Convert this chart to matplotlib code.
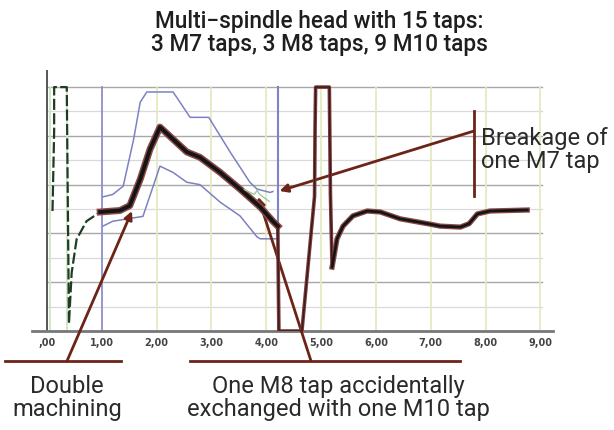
import numpy as np
import matplotlib
matplotlib.use("Agg")
import matplotlib.pyplot as plt

W, H = 614, 431

# x tick labels
tick_pos = [0, 1, 2, 3, 4, 5, 6, 7, 8, 9]
tick_lbl = [",00", "1,00", "2,00", "3,00", "4,00", "5,00", "6,00", "7,00", "8,00", "9,00"]

# start of the trace: first pulse and run-up to the plateau (dashed green part)
start_x = [0.10, 0.13, 0.13, 0.36, 0.40, 0.45, 0.54, 0.72, 0.97]
start_y = [2.46, 4.10, 5.00, 5.00, 0.15, 1.20, 1.88, 2.25, 2.44]

# torque bundle (15 spindles): plateau, peak and decline
rise_x = [0.97, 1.33, 1.51, 1.70, 1.88, 2.06, 2.30, 2.55, 2.79, 3.16, 3.52, 3.89, 4.12, 4.21]
rise_y = [2.44, 2.47, 2.57, 3.11, 3.73, 4.18, 3.93, 3.67, 3.56, 3.25, 2.91, 2.54, 2.25, 2.15]

# drop and second pulse
pulse_x = [4.21, 4.22, 4.23, 4.65, 4.88, 4.89, 4.90, 5.15, 5.17, 5.20]
pulse_y = [2.15, 1.00, 0.00, 0.00, 2.76, 4.20, 5.00, 5.00, 2.80, 1.31]

# recovery and tail
tail_x = [5.20, 5.29, 5.40, 5.58, 5.84, 6.08, 6.44, 6.99, 7.17, 7.54, 7.70, 7.85, 8.08, 8.76]
tail_y = [1.31, 1.89, 2.15, 2.36, 2.46, 2.44, 2.30, 2.19, 2.15, 2.13, 2.20, 2.40, 2.46, 2.48]

# tolerance envelope
upper_x = [1.02, 1.20, 1.39, 1.58, 1.70, 1.82, 2.30, 2.61, 2.95, 3.34, 3.70, 3.83, 4.07, 4.12]
upper_y = [2.75, 2.80, 2.97, 3.93, 4.69, 4.90, 4.90, 4.38, 4.38, 3.67, 3.05, 2.91, 2.84, 2.86]
lower_x = [1.02, 1.20, 1.75, 2.06, 2.30, 2.55, 2.79, 3.16, 3.52, 3.83, 3.89, 4.20]
lower_y = [2.15, 2.25, 2.35, 3.38, 3.25, 3.05, 3.00, 2.64, 2.36, 1.93, 1.89, 1.89]

# M8 tap anomaly blip
blip_x = [3.60, 3.78, 3.83, 3.88, 4.05]
blip_y = [2.90, 2.80, 2.88, 2.80, 2.66]

fig = plt.figure(figsize=(W / 100, H / 100), dpi=100)
# axes placed by pixel box (left, bottom, width, height)
ax = fig.add_axes([32 / W, 1 - 332 / H, (553 - 32) / W, (332 - 72) / H])
ax.set_xlim(-0.274, 9.23)
ax.set_ylim(0, 5.33)

# grid
for y in np.arange(0.5, 5.0, 1.0):
    ax.plot([0, 9.03], [y, y], color="#d9d9d9", lw=0.9, zorder=1)
for y in np.arange(1, 6):
    ax.plot([0, 9.03], [y, y], color="#a8a8a8", lw=1.0, zorder=1)
for x in range(2, 10):
    ax.plot([x, x], [0, 5.0], color="#e4eabf", lw=1.3, zorder=1)
ax.plot([1.0, 1.0], [0, 5.0], color="#8d8fd0", lw=1.3, zorder=2)
ax.plot([4.21, 4.21], [0, 5.0], color="#7f82c6", lw=1.5, zorder=2)
ax.plot([0.06, 0.06], [0, 5.0], color="#cfe6c6", lw=1.3, zorder=1)
ax.plot([0.37, 0.37], [0, 5.0], color="#cfe6c6", lw=1.3, zorder=1)

# envelope
ax.plot(upper_x, upper_y, color="#7d80c4", lw=1.1, zorder=3)
ax.plot(lower_x, lower_y, color="#7d80c4", lw=1.1, zorder=3)

# traces
ax.plot(start_x, start_y, color="#1f3d22", lw=1.6, ls=(0, (5, 1.5)), zorder=4)
ax.plot(rise_x, rise_y, color="#8a4a48", lw=5.0, zorder=4, solid_joinstyle="round")
ax.plot(rise_x, rise_y, color="#151515", lw=2.8, zorder=5, solid_joinstyle="round")
ax.plot(pulse_x, pulse_y, color="#7a3a3a", lw=2.6, zorder=4)
ax.plot(pulse_x, pulse_y, color="#3a1a1a", lw=1.0, zorder=5)
ax.plot(tail_x, tail_y, color="#8a4a48", lw=3.8, zorder=4, solid_joinstyle="round")
ax.plot(tail_x, tail_y, color="#151515", lw=2.0, zorder=5, solid_joinstyle="round")
ax.plot(blip_x, blip_y, color="#9fc99a", lw=1.0, zorder=5)

for s in ["top", "right"]:
    ax.spines[s].set_visible(False)
ax.spines["left"].set_position(("data", 0))
ax.spines["left"].set_color("#555555")
ax.spines["left"].set_linewidth(1.4)
ax.spines["bottom"].set_color("#777777")
ax.spines["bottom"].set_linewidth(2.0)
ax.set_yticks([])
ax.set_xticks(tick_pos)
ax.set_xticklabels(tick_lbl, fontsize=7, color="#444444", fontweight="bold")
ax.tick_params(axis="x", length=0, pad=4)
ax.set_facecolor("white")

# title
fig.text(319 / W, 1 - 33 / H, "Multi\u2212spindle head with 15 taps:\n3 M7 taps, 3 M8 taps, 9 M10 taps",
         ha="center", va="center", fontsize=16.3, family="Roboto", fontweight="medium",
         color="#1e1e1e", linespacing=1.0)

# annotations (pixel positions -> figure fraction)
def fp(x, y):
    return (x / W, 1 - y / H)

brown = "#6b2416"
arr = dict(arrowstyle="-|>", color=brown, lw=2, mutation_scale=12, shrinkA=0, shrinkB=0)
note_font = dict(fontsize=17, family="Roboto", color="#2a2a2a", linespacing=0.98)

# Double machining
fig.add_artist(plt.Line2D([5 / W, 121 / W], [1 - 362 / H] * 2, color=brown, lw=2))
ax.annotate("", xy=(1.55, 2.46), xycoords="data", xytext=fp(67, 362),
            textcoords="figure fraction", arrowprops=arr)
fig.text(67 / W, 1 - 398 / H, "Double\nmachining", ha="center", va="center", **note_font)

# One M8 tap
fig.add_artist(plt.Line2D([190 / W, 460 / W], [1 - 362 / H] * 2, color=brown, lw=2))
ax.annotate("", xy=(3.85, 2.75), xycoords="data", xytext=fp(311, 362),
            textcoords="figure fraction", arrowprops=arr)
fig.text(338 / W, 1 - 398 / H, "One M8 tap accidentally\nexchanged with one M10 tap",
         ha="center", va="center", **note_font)

# Breakage of one M7 tap
fig.add_artist(plt.Line2D([474 / W] * 2, [1 - 112 / H, 1 - 197 / H], color=brown, lw=2))
ax.annotate("", xy=(4.24, 2.87), xycoords="data", xytext=fp(474, 132),
            textcoords="figure fraction", arrowprops=arr)
fig.text(481 / W, 1 - 150 / H, "Breakage of\none M7 tap", ha="left", va="center", **note_font)

fig.savefig("out.png", dpi=100, facecolor="white")
